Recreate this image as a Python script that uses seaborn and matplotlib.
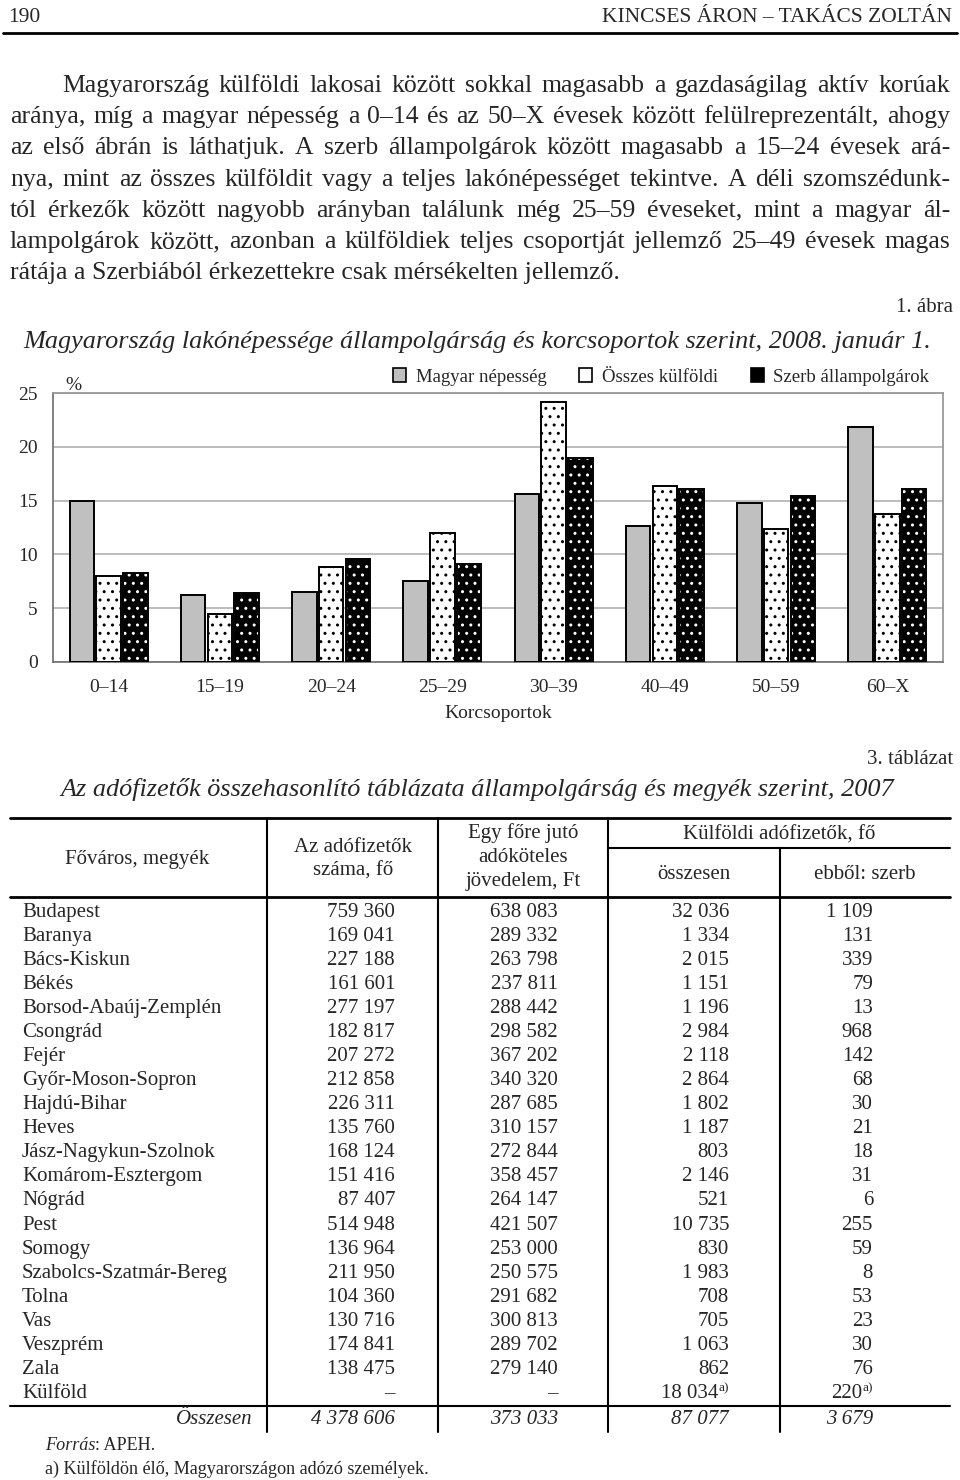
import numpy as np
import pandas as pd
import matplotlib
matplotlib.use('Agg')
import matplotlib.pyplot as plt
from matplotlib.lines import Line2D
from matplotlib.patches import Patch, Rectangle
import seaborn as sns

# ------------------------------------------------------------------
# Chart data (1. ábra)
korcsoportok = ['0–14', '15–19', '20–24', '25–29', '30–39', '40–49', '50–59', '60–X']
sorozatok = ['Magyar népesség', 'Összes külföldi', 'Szerb állampolgárok']
magyar = [15.0, 6.2, 6.5, 7.5, 15.6, 12.6, 14.8, 21.8]
kulfoldi = [8.0, 4.5, 8.8, 12.0, 24.2, 16.4, 12.4, 13.8]
szerb = [8.3, 6.4, 9.6, 9.1, 19.0, 16.1, 15.4, 16.1]

# Table data (3. táblázat)
megyek = ['Budapest', 'Baranya', 'Bács-Kiskun', 'Békés', 'Borsod-Abaúj-Zemplén',
          'Csongrád', 'Fejér', 'Győr-Moson-Sopron', 'Hajdú-Bihar', 'Heves',
          'Jász-Nagykun-Szolnok', 'Komárom-Esztergom', 'Nógrád', 'Pest', 'Somogy',
          'Szabolcs-Szatmár-Bereg', 'Tolna', 'Vas', 'Veszprém', 'Zala', 'Külföld']
adofizetok = [759360, 169041, 227188, 161601, 277197, 182817, 207272, 212858, 226311,
              135760, 168124, 151416, 87407, 514948, 136964, 211950, 104360, 130716,
              174841, 138475, None]
jovedelem = [638083, 289332, 263798, 237811, 288442, 298582, 367202, 340320, 287685,
             310157, 272844, 358457, 264147, 421507, 253000, 250575, 291682, 300813,
             289702, 279140, None]
kulf_osszesen = [32036, 1334, 2015, 1151, 1196, 2984, 2118, 2864, 1802, 1187, 803,
                 2146, 521, 10735, 830, 1983, 708, 705, 1063, 862, 18034]
kulf_szerb = [1109, 131, 339, 79, 13, 968, 142, 68, 30, 21, 18, 31, 6, 255, 59, 8,
              53, 23, 30, 76, 220]
osszesen = [4378606, 373033, 87077, 3679]

bekezdes = [
    'Magyarország külföldi lakosai között sokkal magasabb a gazdaságilag aktív korúak',
    'aránya, míg a magyar népesség a 0–14 és az 50–X évesek között felülreprezentált, ahogy',
    'az első ábrán is láthatjuk. A szerb állampolgárok között magasabb a 15–24 évesek ará-',
    'nya, mint az összes külföldit vagy a teljes lakónépességet tekintve. A déli szomszédunk-',
    'tól érkezők között nagyobb arányban találunk még 25–59 éveseket, mint a magyar ál-',
    'lampolgárok között, azonban a külföldiek teljes csoportját jellemző 25–49 évesek magas',
    'rátája a Szerbiából érkezettekre csak mérsékelten jellemző.',
]

# ------------------------------------------------------------------
sns.set_style('white')
plt.rcParams['font.family'] = ['Liberation Serif', 'DejaVu Serif']
plt.rcParams['hatch.linewidth'] = 1.0

W, H = 960, 1480
fig = plt.figure(figsize=(W / 100, H / 100), dpi=100)
renderer = fig.canvas.get_renderer()


def put(x, y, s, **kw):
    kw.setdefault('va', 'baseline')
    return fig.text(x / W, 1 - y / H, s, **kw)


def width_of(s, **kw):
    t = fig.text(0, 0, s, **kw)
    w = t.get_window_extent(renderer).width
    t.remove()
    return w


def hline(x0, x1, y, lw=1.5):
    fig.add_artist(Line2D([x0 / W, x1 / W], [1 - y / H] * 2, lw=lw, color='black'))


def vline(x, y0, y1, lw=1.5):
    fig.add_artist(Line2D([x / W] * 2, [1 - y0 / H, 1 - y1 / H], lw=lw, color='black'))


def fmt(v):
    if v is None:
        return '–'
    return f'{v:,}'.replace(',', ' ')


# header
put(8, 22, '190', fontsize=15.5)
put(952, 22, 'KINCSES ÁRON – TAKÁCS ZOLTÁN', fontsize=15.5, ha='right')
hline(3, 957, 33, lw=2)

# justified paragraph
body = dict(fontsize=18.5)
for i, line in enumerate(bekezdes):
    y = 92 + i * 31.2
    x0 = 62 if i == 0 else 10
    if i == len(bekezdes) - 1:
        put(x0, y, line, **body)
        continue
    words = line.split(' ')
    ws = [width_of(w, **body) for w in words]
    gap = (950 - x0 - sum(ws)) / (len(words) - 1)
    x = x0
    for w, wd in zip(words, ws):
        put(x, y, w, **body)
        x += wd + gap

put(953, 312, '1. ábra', fontsize=15, ha='right')
put(23, 348, 'Magyarország lakónépessége állampolgárság és korcsoportok szerint, 2008. január 1.',
    fontsize=18.9, style='italic')

# ------------------------------------------------------------------
# bar chart
df = pd.DataFrame({
    'kor': korcsoportok * 3,
    'ertek': magyar + kulfoldi + szerb,
    'sorozat': np.repeat(sorozatok, len(korcsoportok)),
})

ax = fig.add_axes([53 / W, 1 - 662 / H, 890 / W, 269 / H])
sns.barplot(data=df, x='kor', y='ertek', hue='sorozat', order=korcsoportok,
            hue_order=sorozatok, palette=['#c0c0c0', 'white', 'black'],
            saturation=1, width=0.72, gap=0.08, edgecolor='black', linewidth=1.4,
            legend=False, ax=ax, zorder=3)

for k, cont in enumerate(ax.containers):
    if k == 0:
        continue
    for bar in cont:
        bar.set_hatch('..')
        if k == 2:
            bar.set_edgecolor('white')
            ax.add_patch(Rectangle(bar.get_xy(), bar.get_width(), bar.get_height(),
                                   fill=False, ec='black', lw=1.4, zorder=4))

ax.set_ylim(0, 25)
ax.set_xlim(-0.5, len(korcsoportok) - 0.5)
ax.set_yticks([0, 5, 10, 15, 20, 25])
ax.set_xticks(np.arange(len(korcsoportok)))
ax.set_xticklabels(korcsoportok)
ax.set_xticks(np.arange(len(korcsoportok) + 1) - 0.5, minor=True)
ax.tick_params(axis='x', which='major', length=0, pad=12, labelsize=14)
ax.tick_params(axis='x', which='minor', length=5, width=1, color='#888888', direction='out')
ax.tick_params(axis='y', length=4, width=1, color='#888888', direction='out', pad=7, labelsize=14)
ax.yaxis.grid(True, color='#b0b0b0', lw=1.2)
ax.set_axisbelow(True)
for s in ['top', 'right']:
    ax.spines[s].set_color('#999999')
for s in ['left', 'bottom']:
    ax.spines[s].set_color('#777777')
for s in ax.spines.values():
    s.set_linewidth(1.3)
ax.set_ylabel('')
ax.set_xlabel('Korcsoportok', fontsize=14, labelpad=7)
put(65, 390, '%', fontsize=14)

handles = [Patch(facecolor='#c0c0c0', edgecolor='black', lw=1.2),
           Patch(facecolor='white', edgecolor='black', lw=1.2),
           Patch(facecolor='black', edgecolor='black', lw=1.2)]
fig.legend(handles, sorozatok, loc='center right', bbox_to_anchor=(929 / W, 1 - 377 / H),
           ncol=3, frameon=False, fontsize=13.5, handlelength=0.7, handleheight=0.7,
           handletextpad=0.5, columnspacing=1.75, borderaxespad=0, borderpad=0)

# ------------------------------------------------------------------
# table
put(953, 764, '3. táblázat', fontsize=15, ha='right')
put(60, 796, 'Az adófizetők összehasonlító táblázata állampolgárság és megyék szerint, 2007',
    fontsize=18.9, style='italic')

hline(10, 950, 818, lw=2)
hline(608, 950, 848, lw=1.5)
hline(10, 950, 897, lw=2)
hline(10, 950, 1406, lw=1.5)
vline(267, 818, 1432)
vline(438, 818, 1432)
vline(608, 818, 1432)
vline(780, 848, 1432)

tf = dict(fontsize=15)
put(137, 864, 'Főváros, megyék', ha='center', **tf)
put(353, 852, 'Az adófizetők', ha='center', **tf)
put(353, 876, 'száma, fő', ha='center', **tf)
put(523, 838, 'Egy főre jutó', ha='center', **tf)
put(523, 862, 'adóköteles', ha='center', **tf)
put(523, 886, 'jövedelem, Ft', ha='center', **tf)
put(779, 840, 'Külföldi adófizetők, fő', ha='center', **tf)
put(694, 879, 'összesen', ha='center', **tf)
put(865, 879, 'ebből: szerb', ha='center', **tf)

sup = dict(fontsize=9.5)
sup_w = width_of('a)', **sup)
for i, nev in enumerate(megyek):
    y = 917 + i * 24.04
    put(22, y, nev, **tf)
    put(395, y, fmt(adofizetok[i]), ha='right', **tf)
    put(558, y, fmt(jovedelem[i]), ha='right', **tf)
    if nev == 'Külföld':
        put(729 - sup_w, y, fmt(kulf_osszesen[i]), ha='right', **tf)
        put(729 - sup_w, y - 7, 'a)', **sup)
        put(873 - sup_w, y, fmt(kulf_szerb[i]), ha='right', **tf)
        put(873 - sup_w, y - 7, 'a)', **sup)
    else:
        put(729, y, fmt(kulf_osszesen[i]), ha='right', **tf)
        put(873, y, fmt(kulf_szerb[i]), ha='right', **tf)

y = 1424
put(253, y, 'Összesen', ha='right', style='italic', **tf)
for xr, v in zip([395, 558, 729, 873], osszesen):
    put(xr, y, fmt(v), ha='right', style='italic', **tf)

ff = dict(fontsize=13.1)
put(45, 1450, 'Forrás', style='italic', **ff)
put(45 + width_of('Forrás', style='italic', **ff), 1450, ': APEH.', **ff)
put(45, 1474, 'a) Külföldön élő, Magyarországon adózó személyek.', **ff)

fig.savefig('out.png', dpi=100, facecolor='white')
